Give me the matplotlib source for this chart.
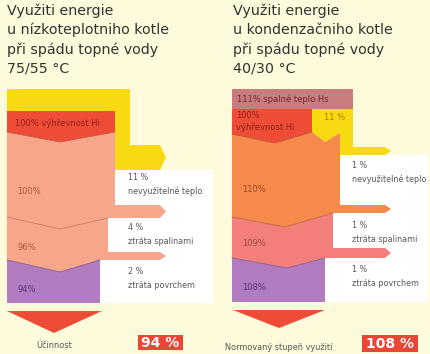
import matplotlib.pyplot as plt
from matplotlib.patches import Polygon, Rectangle

# ---- data ----
left_title = ['Využiti energie', 'u nízkoteplotniho kotle', 'při spádu topné vody', '75/55 °C']
right_title = ['Využiti energie', 'u kondenzačniho kotle', 'při spádu topné vody', '40/30 °C']
loss_names = ['nevyužitelné teplo', 'ztráta spalinami', 'ztráta povrchem']
left_stages = [100, 96, 94]
left_losses = [11, 4, 2]
right_stages = [110, 109, 108]
right_losses = [1, 1, 1]
left_input = 100        # výhřevnost Hi
right_hs = 111          # spalné teplo Hs
right_hi = 100          # výhřevnost Hi
right_cond = 11         # kondenzační teplo
left_result = 94
right_result = 108
result_names = ['Účinnost', 'Normovaný stupeň využití']

# ---- styles ----
bg = '#fefadc'
yellow = '#f8da12'
red = '#ef4c37'
salmon = '#f6a68a'
purple = '#b17cbf'
orange = '#f58a4b'
pink = '#f27f79'
rose = '#ca7b7e'
grey = '#585858'

plt.rcParams['font.family'] = ['DejaVu Sans']

fig = plt.figure(figsize=(4.3, 3.54), dpi=100)
fig.patch.set_facecolor(bg)
ax = fig.add_axes([0, 0, 1, 1])
ax.set_xlim(0, 430)
ax.set_ylim(354, 0)
ax.axis('off')


def poly(pts, color):
    ax.add_patch(Polygon(pts, closed=True, facecolor=color, edgecolor='none'))


def arrow(x_end, y0, y1):
    # right pointing arrow tip, body ends at x_end
    return [(x_end, y0), (x_end + 6, (y0 + y1) / 2), (x_end, y1)]


def seam(pts, color):
    xs = [p[0] for p in pts]
    ys = [p[1] for p in pts]
    ax.plot(xs, ys, color=color, lw=0.6)


def title(x, lines):
    for i, s in enumerate(lines):
        ax.text(x, 15 + i * 19.3, s, fontsize=10.3, color='#333333', va='baseline', ha='left')


def label(x, y, s, color=grey, size=5.8):
    ax.text(x, y, s, fontsize=size, color=color, va='center', ha='left')


# =================== left diagram ===================
title(7, left_title)
ax.add_patch(Rectangle((100, 170), 113, 133, facecolor='white', edgecolor='none'))

poly([(7, 89), (130, 89), (130, 145), (160, 145)] + arrow(160, 145, 170)[1:] +
     [(115, 170), (115, 111), (7, 111)], yellow)
poly([(7, 111), (115, 111), (115, 132), (60, 142), (7, 132)], red)
poly([(7, 132), (60, 142), (115, 132), (115, 205), (160, 205)] + arrow(160, 205, 218)[1:] +
     [(108, 218), (60, 229), (7, 217)], salmon)
poly([(7, 217), (60, 229), (108, 218), (108, 252), (160, 252)] + arrow(160, 252, 260)[1:] +
     [(100, 260), (60, 272), (7, 260)], salmon)
poly([(7, 260), (60, 272), (100, 260), (100, 303), (7, 303)], purple)
seam([(7, 132), (60, 142), (115, 132)], '#c8503a')
seam([(7, 217), (60, 229), (108, 218)], '#c87a66')
seam([(7, 260), (60, 272), (100, 260)], '#8a5a90')

label(15, 123, '%d%% výhřevnost Hi' % left_input, color='#8a2418', size=6)
for s, y, c in zip(left_stages, [191, 247, 289], ['#a85a44', '#a85a44', '#5e3470']):
    label(17, y, '%d%%' % s, color=c, size=6)
for v, name, y in zip(left_losses, loss_names, [178, 228, 272]):
    label(128, y, '%d %%' % v)
    label(128, y + 13, name)

poly([(7, 311), (102, 311), (54, 333)], red)
ax.text(54, 345, result_names[0], fontsize=5.9, color=grey, ha='center', va='center')
ax.add_patch(Rectangle((138, 335), 45, 15, facecolor='#ea4636', edgecolor='none'))
ax.text(160.5, 343, '%d %%' % left_result, fontsize=10, fontweight='bold', color='white',
        ha='center', va='center')

# =================== right diagram ===================
title(233, right_title)
ax.add_patch(Rectangle((325, 155), 103, 147, facecolor='white', edgecolor='none'))

poly([(232, 89), (353, 89), (353, 109), (232, 109)], rose)
poly([(232, 109), (312, 109), (312, 132), (275, 143), (232, 134)], red)
poly([(312, 109), (353, 109), (353, 147), (385, 147)] + arrow(385, 147, 155)[1:] +
     [(340, 155), (340, 133), (325, 142), (312, 132)], yellow)
poly([(232, 134), (275, 143), (312, 132), (325, 142), (340, 133), (340, 205), (385, 205)] +
     arrow(385, 205, 213)[1:] + [(333, 213), (285, 227), (232, 217)], orange)
poly([(232, 217), (285, 227), (333, 213), (333, 248), (385, 248)] + arrow(385, 248, 258)[1:] +
     [(325, 258), (287, 268), (232, 258)], pink)
poly([(232, 258), (287, 268), (325, 258), (325, 302), (232, 302)], purple)
seam([(232, 134), (275, 143), (312, 132)], '#c04a30')
seam([(232, 217), (285, 227), (333, 213)], '#c0604a')
seam([(232, 258), (287, 268), (325, 258)], '#8a5a90')

label(237, 99, '%d%% spalné teplo Hs' % right_hs, color='#6e2a2c', size=6)
label(236, 115, '%d%%' % right_hi, color='#8a2418', size=6)
label(236, 128, 'výhřevnost Hi', color='#8a2418', size=6)
ax.text(335, 118, '%d %%' % right_cond, fontsize=6, color='#b07a10', ha='center', va='center')
for s, y, c in zip(right_stages, [190, 243, 287], ['#a04a26', '#a04848', '#5e3470']):
    label(242, y, '%d%%' % s, color=c, size=6)
for v, name, y in zip(right_losses, loss_names, [165, 226, 270]):
    label(352, y, '%d %%' % v)
    label(352, y + 14, name)

poly([(233, 310), (325, 310), (279, 328)], red)
ax.text(279, 347, result_names[1], fontsize=5.9, color=grey, ha='center', va='center')
ax.add_patch(Rectangle((362, 335), 56, 17, facecolor='#ea4636', edgecolor='none'))
ax.text(390, 344, '%d %%' % right_result, fontsize=10, fontweight='bold', color='white',
        ha='center', va='center')

fig.savefig('out.png', dpi=100, facecolor=bg)
